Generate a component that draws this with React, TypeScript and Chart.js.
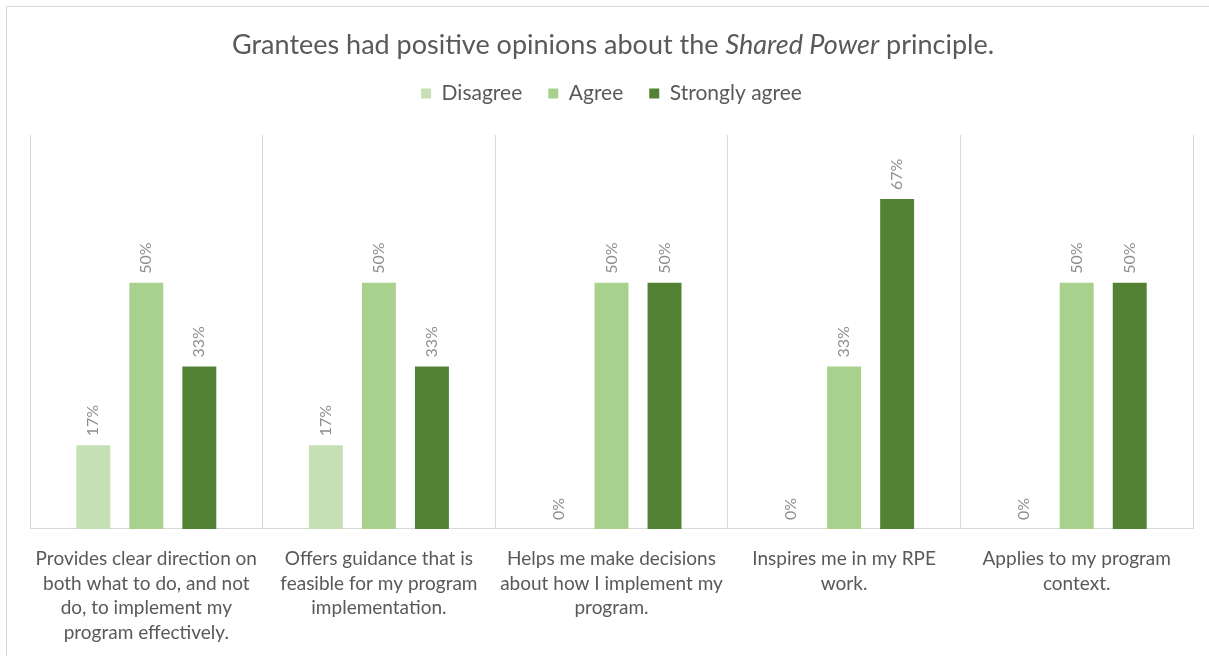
import React, { useEffect, useRef } from "react";
import { Chart, registerables } from "chart.js";

Chart.register(...registerables);

const categories: string[][] = [
  ["Provides clear direction on", "both what to do, and not", "do, to implement my", "program effectively."],
  ["Offers guidance that is", "feasible for my program", "implementation."],
  ["Helps me make decisions", "about how I implement my", "program."],
  ["Inspires me in my RPE", "work."],
  ["Applies to my program", "context."],
];
const seriesNames = ["Disagree", "Agree", "Strongly agree"];
const disagree = [17, 17, 0, 0, 0];
const agree = [50, 50, 50, 33, 50];
const stronglyAgree = [33, 33, 50, 67, 50];
const seriesColors = ["#c5e0b4", "#a9d18e", "#548235"];
const titleParts: { text: string; italic: boolean }[] = [
  { text: "Grantees had positive opinions about the ", italic: false },
  { text: "Shared Power", italic: true },
  { text: " principle.", italic: false },
];

const FONT = "Lato, 'Open Sans', sans-serif";

const titlePlugin = {
  id: "mixedTitle",
  afterDraw(chart: any) {
    const ctx = chart.ctx;
    ctx.save();
    const size = 27;
    const fonts = titleParts.map((p) => `${p.italic ? "italic " : ""}${size}px ${FONT}`);
    let total = 0;
    const widths = titleParts.map((p, i) => {
      ctx.font = fonts[i];
      const w = ctx.measureText(p.text).width;
      total += w;
      return w;
    });
    let x = 606 - total / 2;
    const y = 38;
    ctx.fillStyle = "#595959";
    ctx.textBaseline = "middle";
    ctx.textAlign = "left";
    titleParts.forEach((p, i) => {
      ctx.font = fonts[i];
      ctx.fillText(p.text, x, y);
      x += widths[i];
    });
    ctx.restore();
  },
};

const legendSpacePlugin = {
  id: "legendSpace",
  beforeUpdate(chart: any) {
    const lg = chart.legend;
    if (lg && !lg.__patched) {
      const orig = lg.fit;
      lg.fit = function () {
        orig.call(this);
        this.height += 21;
      };
      lg.__patched = true;
    }
  },
};

const dataLabelPlugin = {
  id: "rotLabels",
  afterDatasetsDraw(chart: any) {
    const ctx = chart.ctx;
    ctx.save();
    ctx.font = `16px ${FONT}`;
    ctx.fillStyle = "#8f8f8f";
    ctx.textBaseline = "middle";
    ctx.textAlign = "left";
    chart.data.datasets.forEach((ds: any, di: number) => {
      const meta = chart.getDatasetMeta(di);
      meta.data.forEach((bar: any, i: number) => {
        const v = ds.data[i];
        ctx.save();
        ctx.translate(bar.x, bar.y - 9);
        ctx.rotate(-Math.PI / 2);
        ctx.fillText(`${v}%`, 0, 0);
        ctx.restore();
      });
    });
    ctx.restore();
  },
};

export default function App() {
  const ref = useRef<HTMLCanvasElement>(null);
  useEffect(() => {
    if (!ref.current) return;
    const chart = new Chart(ref.current, {
      type: "bar",
      data: {
        labels: categories,
        datasets: [disagree, agree, stronglyAgree].map((d, i) => ({
          label: seriesNames[i],
          data: d,
          backgroundColor: seriesColors[i],
          categoryPercentage: 0.684,
          barPercentage: 0.64,
        })),
      },
      options: {
        animation: false,
        responsive: false,
        maintainAspectRatio: false,
        layout: { padding: { top: 50, left: 23, right: 24, bottom: 4 } },
        plugins: {
          legend: {
            display: true,
            position: "top",
            labels: {
              boxWidth: 10,
              boxHeight: 10,
              padding: 26,
              color: "#595959",
              font: { family: FONT, size: 21 },
            },
          },
          tooltip: { enabled: false },
          title: { display: false },
        },
        scales: {
          x: {
            grid: { display: true, offset: true, color: "#d9d9d9", drawTicks: false },
            border: { display: true, color: "#d9d9d9" },
            ticks: {
              color: "#595959",
              font: { family: FONT, size: 19, lineHeight: 1.29 },
              padding: 18,
              maxRotation: 0,
              autoSkip: false,
            },
          },
          y: {
            display: false,
            min: 0,
            max: 80,
          },
        },
      },
      plugins: [titlePlugin, legendSpacePlugin, dataLabelPlugin],
    });
    return () => chart.destroy();
  }, []);
  return (
    <div
      style={{
        position: "fixed",
        left: 6,
        top: 6,
        borderLeft: "1px solid #d9d9d9",
        borderTop: "1px solid #d9d9d9",
        background: "#fff",
      }}
    >
      <canvas ref={ref} width={1210} height={660} style={{ display: "block" }} />
    </div>
  );
}
